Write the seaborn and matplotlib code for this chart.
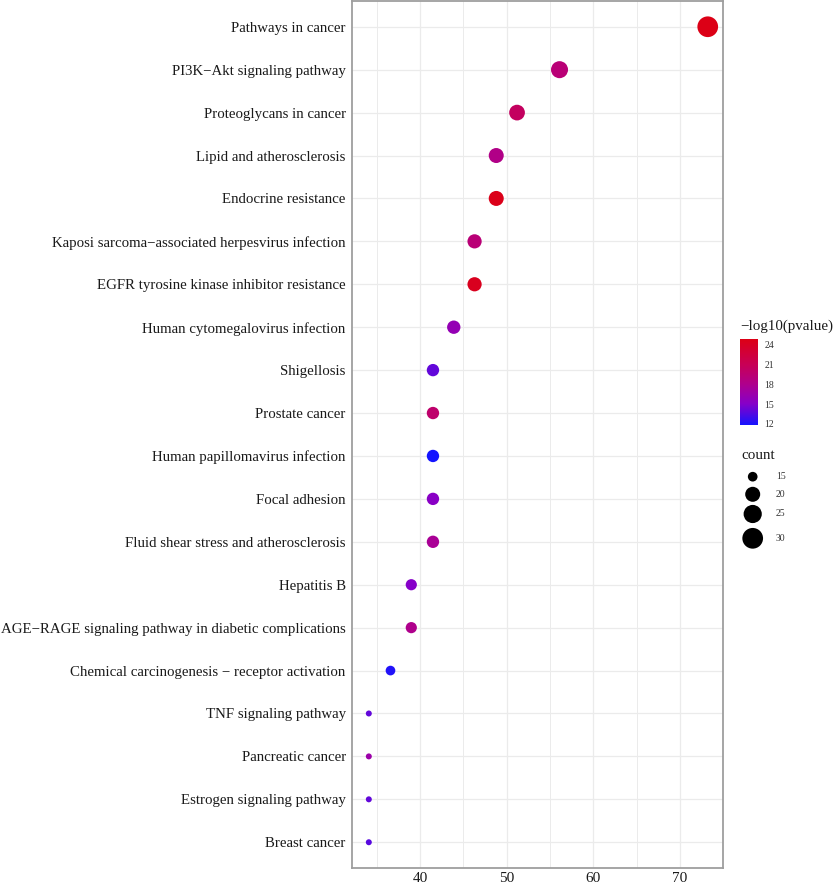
import numpy as np
import pandas as pd
import matplotlib
matplotlib.use("Agg")
import matplotlib.pyplot as plt
import seaborn as sns
from matplotlib.colors import LinearSegmentedColormap, Normalize
from matplotlib.cm import ScalarMappable

# ---------------- data ----------------
terms = [
    "Pathways in cancer",
    "PI3K\u2212Akt signaling pathway",
    "Proteoglycans in cancer",
    "Lipid and atherosclerosis",
    "Endocrine resistance",
    "Kaposi sarcoma\u2212associated herpesvirus infection",
    "EGFR tyrosine kinase inhibitor resistance",
    "Human cytomegalovirus infection",
    "Shigellosis",
    "Prostate cancer",
    "Human papillomavirus infection",
    "Focal adhesion",
    "Fluid shear stress and atherosclerosis",
    "Hepatitis B",
    "AGE\u2212RAGE signaling pathway in diabetic complications",
    "Chemical carcinogenesis \u2212 receptor activation",
    "TNF signaling pathway",
    "Pancreatic cancer",
    "Estrogen signaling pathway",
    "Breast cancer",
]
gene_ratio = [73.2, 56.1, 51.2, 48.8, 48.8, 46.3, 46.3, 43.9, 41.5, 41.5,
              41.5, 41.5, 41.5, 39.0, 39.0, 36.6, 34.1, 34.1, 34.1, 34.1]
counts = [30, 23, 21, 20, 20, 19, 19, 18, 17, 17,
          17, 17, 17, 16, 16, 15, 14, 14, 14, 14]
neglog10p = [24.7, 19.2, 20.4, 18.3, 24.5, 19.2, 24.2, 16.0, 14.0, 19.8,
             11.8, 15.2, 17.6, 15.0, 18.0, 12.2, 14.0, 16.6, 14.0, 13.7]
x_ticks = [40, 50, 60, 70]
cbar_ticks = [12, 15, 18, 21, 24]
size_ticks = [15, 20, 25, 30]

df = pd.DataFrame({"term": terms, "ratio": gene_ratio,
                   "count": counts, "p": neglog10p})

# ---------------- colour scale (blue -> red gradient as in the reference) ----------------
anchors = [(0.00, (20, 20, 255)),
           (0.25, (135, 0, 200)),
           (0.48, (175, 0, 140)),
           (0.71, (200, 0, 85)),
           (0.94, (216, 0, 35)),
           (1.00, (220, 0, 22))]
cmap = LinearSegmentedColormap.from_list(
    "blue_red", [(t, tuple(v / 255 for v in c)) for t, c in anchors])
norm = Normalize(vmin=11.8, vmax=24.75)


# ---------------- size scale (ggplot area palette, range 1..6) ----------------
def marker_area(c):
    size_mm = 1 + 5 * np.sqrt(max(c - 14, 0) / 16)
    diam_px = 2.94 * size_mm + 3.06
    return (diam_px * 0.72) ** 2


sizes = {c: marker_area(c) for c in sorted(set(counts))}

# ---------------- figure ----------------
sns.set_style("white")
plt.rcParams["font.family"] = ["Liberation Serif", "DejaVu Serif"]

W, H = 833, 885
fig = plt.figure(figsize=(W / 100, H / 100), dpi=100)
ax = fig.add_axes([352 / W, 1 - 868 / H, (723 - 352) / W, (868 - 1) / H])

sns.scatterplot(data=df, x="ratio", y="term", hue="p", size="count",
                sizes=sizes, palette=cmap, hue_norm=norm, linewidth=0,
                legend=False, ax=ax, zorder=3)

ax.set_xlim(32.16, 74.96)
ax.set_ylim(len(terms) - 0.4, -0.6)
ax.set_xticks(x_ticks)
ax.set_xticks([35, 45, 55, 65], minor=True)
ax.grid(True, which="major", color="#EBEBEB", lw=0.9, zorder=0)
ax.grid(True, which="minor", axis="x", color="#EBEBEB", lw=0.7, zorder=0)
ax.set_axisbelow(True)
ax.set_xlabel("")
ax.set_ylabel("")
for s in ax.spines.values():
    s.set_color("#9E9E9E")
    s.set_linewidth(1.3)
ax.tick_params(axis="both", which="major", length=2.5, width=0.8,
               color="#555555", labelsize=10.75, labelcolor="#1a1a1a", pad=2)
ax.tick_params(axis="x", which="major", labelsize=11, pad=0.5)
ax.tick_params(axis="x", which="minor", length=0)

# ---------------- colour legend ----------------
fig.text(740 / W, 1 - 326 / H, "\u2212log10(pvalue)", fontsize=10.8,
         va="center", ha="left", color="#1a1a1a")
cax = fig.add_axes([740 / W, 1 - 425.3 / H, 17.7 / W, 86 / H])
cb = fig.colorbar(ScalarMappable(norm=norm, cmap=cmap), cax=cax, ticks=cbar_ticks)
cb.outline.set_visible(False)
cax.yaxis.set_ticks_position("both")
cax.tick_params(which="major", direction="in", length=3.5, width=0.8,
                color="white", labelsize=7, labelcolor="#333333",
                labelleft=False, labelright=True, pad=5)
cax.minorticks_off()

# ---------------- size legend ----------------
fig.text(741 / W, 1 - 455 / H, "count", fontsize=10.8, va="center", ha="left",
         color="#1a1a1a")
lax = fig.add_axes([735 / W, 1 - 555 / H, 65 / W, 90 / H])
lax.set_xlim(735, 800)
lax.set_ylim(555, 465)
lax.axis("off")
legend_y = [476.7, 494.3, 514.0, 538.3]
lax.scatter([752.7] * len(size_ticks), legend_y,
            s=[marker_area(c) for c in size_ticks], color="black",
            linewidths=0, clip_on=False)
for c, yy in zip(size_ticks, legend_y):
    lax.text(776, yy, str(c), fontsize=7, va="center", ha="left",
             color="#333333")

fig.savefig("out.png", dpi=100)
